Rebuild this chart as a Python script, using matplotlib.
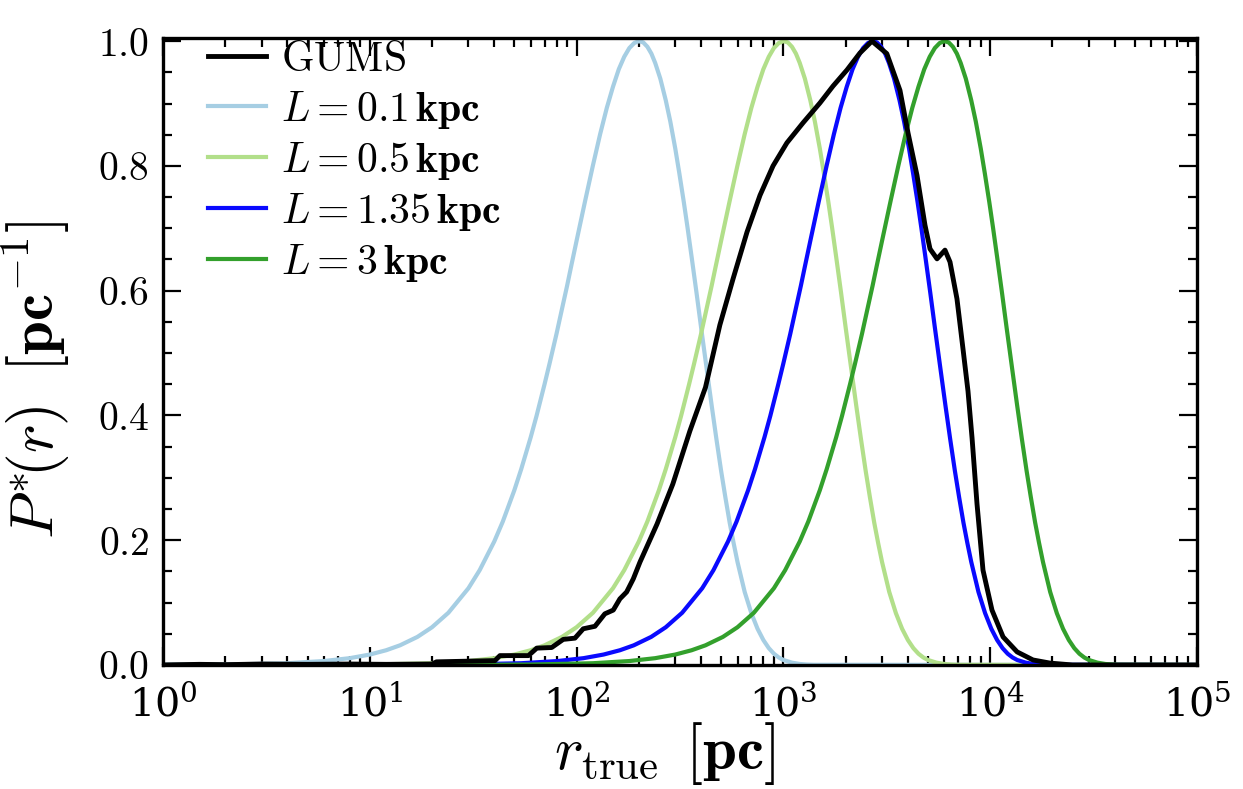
import matplotlib
matplotlib.use('Agg')
import matplotlib.pyplot as plt
import numpy as np
from matplotlib.ticker import MultipleLocator, LogLocator

plt.rcParams['mathtext.fontset'] = 'cm'
plt.rcParams['font.family'] = 'serif'
plt.rcParams['font.serif'] = ['DejaVu Serif']

# Exponentially decreasing space density prior, normalised to its peak.
# relDistance is r / r_peak, with r_peak = 2L
relDistance = [0.005, 0.01, 0.02, 0.03, 0.04, 0.05, 0.06, 0.07, 0.085, 0.1,
               0.12, 0.15, 0.17, 0.2, 0.22, 0.25, 0.27, 0.3, 0.32, 0.35,
               0.37, 0.4, 0.42, 0.45, 0.47, 0.5, 0.55, 0.6, 0.65, 0.7,
               0.75, 0.8, 0.85, 0.9, 0.95, 1.0, 1.05, 1.1, 1.15, 1.2,
               1.27, 1.35, 1.42, 1.5, 1.57, 1.65, 1.72, 1.8, 1.9, 2.0,
               2.12, 2.25, 2.37, 2.5, 2.62, 2.75, 2.87, 3.0, 3.25, 3.5,
               3.75, 4.0, 4.25, 4.5, 4.75, 5.0, 5.5, 6.0, 6.5, 7.0]
priorValues = [0.0002, 0.0007, 0.0028, 0.0063, 0.0109, 0.0167, 0.0236, 0.0315, 0.045, 0.0605,
               0.0837, 0.123, 0.152, 0.198, 0.230, 0.280, 0.314, 0.365, 0.399, 0.450,
               0.483, 0.531, 0.563, 0.608, 0.638, 0.680, 0.744, 0.801, 0.851, 0.893,
               0.927, 0.955, 0.975, 0.989, 0.997, 1.0, 0.998, 0.991, 0.980, 0.965,
               0.940, 0.905, 0.871, 0.828, 0.788, 0.742, 0.701, 0.654, 0.597, 0.541,
               0.479, 0.416, 0.363, 0.311, 0.269, 0.228, 0.196, 0.165, 0.117, 0.083,
               0.058, 0.040, 0.027, 0.018, 0.012, 0.008, 0.0037, 0.0016, 0.0007, 0.0003]
scaleLengths = [0.1, 0.5, 1.35, 3]  # kpc

# GUMS mock catalogue distance distribution, r in pc
rGums = [1, 1.5, 2, 3, 5, 8, 12, 20, 21, 40.3, 42.6, 58.5, 64.2, 75.8, 86.2,
         98.2, 107.7, 122.7, 137, 150.5, 162, 174.6, 188, 202.6, 245, 292, 353,
         420, 493, 571, 667, 771, 891, 1040, 1244, 1503, 1738, 2032, 2345,
         2680, 3163, 3663, 4005, 4426, 4838, 5117, 5532, 6045, 6393, 6907,
         7385, 7810, 8170, 8635, 9230, 10200, 11540, 13490, 16110, 19460,
         25000, 100000]
pGums = [0.0, 0.001, 0.0005, 0.0015, 0.001, 0.0015, 0.001, 0.0015, 0.005,
         0.007, 0.015, 0.015, 0.027, 0.028, 0.041, 0.043, 0.058, 0.062, 0.082,
         0.088, 0.106, 0.117, 0.138, 0.165, 0.226, 0.29, 0.375, 0.445, 0.545,
         0.619, 0.694, 0.753, 0.80, 0.837, 0.869, 0.901, 0.928, 0.954, 0.981,
         1.0, 0.98, 0.921, 0.853, 0.785, 0.705, 0.667, 0.651, 0.665, 0.646,
         0.587, 0.507, 0.439, 0.364, 0.258, 0.152, 0.088, 0.045, 0.021, 0.008,
         0.003, 0.0, 0.0]

labels = [r'$\mathrm{GUMS}$', r'$L = 0.1\,\mathbf{kpc}$',
          r'$L = 0.5\,\mathbf{kpc}$', r'$L = 1.35\,\mathbf{kpc}$',
          r'$L = 3\,\mathbf{kpc}$']
colours = ['black', '#a6cee3', '#b2df8a', '#0a0aff', '#33a02c']

fig = plt.figure(figsize=(12.43, 7.89), dpi=100)
ax = fig.add_axes([0.1311, 0.1572, 0.963 - 0.1311, 0.9518 - 0.1572])

handles = []
for L, c, lab in zip(scaleLengths, colours[1:], labels[1:]):
    rs = np.array(relDistance) * 2 * L * 1000
    xs = np.concatenate(([1], rs, [1e5]))
    ys = np.concatenate(([0.0], priorValues, [0.0]))
    h, = ax.plot(xs, ys, color=c, lw=3.0, label=lab, zorder=2)
    handles.append(h)
hg, = ax.plot(rGums, pGums, color=colours[0], lw=3.5, label=labels[0],
              zorder=3)
handles.insert(0, hg)

ax.set_xscale('log')
ax.set_xlim(1, 1e5)
ax.set_ylim(0, 1.005)

ax.xaxis.set_major_locator(LogLocator(base=10, numticks=10))
ax.xaxis.set_minor_locator(LogLocator(base=10, subs=np.arange(2, 10), numticks=20))
ax.yaxis.set_major_locator(MultipleLocator(0.2))
ax.yaxis.set_minor_locator(MultipleLocator(0.05))
ax.yaxis.set_major_formatter(plt.FuncFormatter(lambda v, p: r'$%.1f$' % v))

ax.tick_params(which='both', direction='in', top=True, right=True,
               labelsize=28.5, width=1.6)
ax.tick_params(which='major', length=13)
ax.tick_params(which='minor', length=6.5)
ax.tick_params(axis='y', which='major', pad=10)
ax.tick_params(axis='x', which='major', pad=14)
for s in ax.spines.values():
    s.set_linewidth(2.4)

ax.set_xlabel(r'$r_{\rm true}\;\,\mathbf{[pc]}$', fontsize=44)
ax.set_ylabel(r'$P^{*}\!(r)\;\;\mathbf{[pc^{-1}]}$', fontsize=44)
ax.xaxis.set_label_coords(0.4855, -0.0877)
ax.yaxis.set_label_coords(-0.088, 0.455)

ax.legend(handles=handles, loc='upper left', frameon=False, fontsize=30,
          handlelength=1.4, handletextpad=0.36, labelspacing=0.19,
          borderpad=0, borderaxespad=0, bbox_to_anchor=(0.0435, 1.0))

fig.savefig('out.png', dpi=100)
